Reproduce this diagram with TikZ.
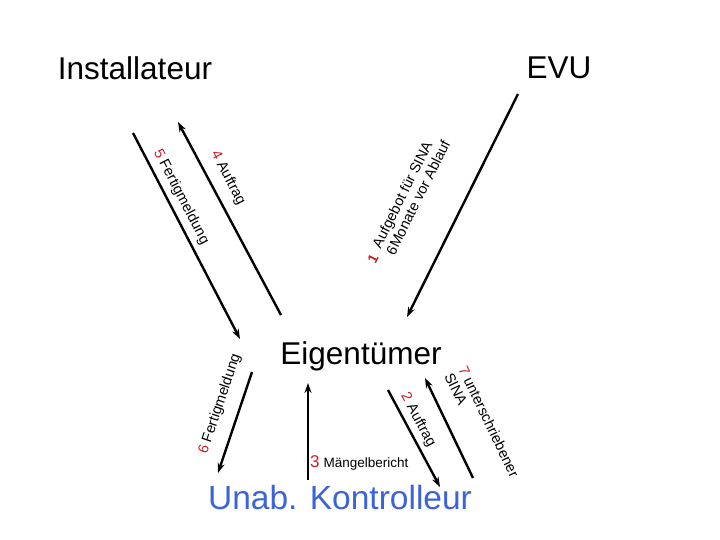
\documentclass[tikz,border=0pt]{standalone}
\usepackage{fontspec}
\setmainfont{Liberation Sans}
\usetikzlibrary{arrows.meta}
\definecolor{nr}{RGB}{200,30,40}
\definecolor{kblue}{RGB}{60,100,215}
\begin{document}
\begin{tikzpicture}[x=1pt,y=-1pt,
  conn/.style={line width=2.4pt},
  arr/.style={conn,-{Stealth[length=10pt,width=7pt]}},
  lab/.style={font=\fontsize{14.5}{15.5}\selectfont,inner sep=0pt,align=left},
  big/.style={font=\fontsize{31.5}{33}\selectfont,inner sep=0pt}]
\useasboundingbox (0,0) rectangle (720,540);
\node[big] (inst) at (135,68) {Installateur};
\node[big] (evu) at (559,68) {EVU};
\node[big] (eig) at (361,356) {Eigentümer};
\node[big,text=kblue,font=\fontsize{33.5}{35}\selectfont] (kon) at (340,498) {Unab. Kontrolleur};
% line endpoints
\coordinate (a5) at (133,133); \coordinate (b5) at (240,339);
\coordinate (a4) at (281,315); \coordinate (b4) at (178,122);
\coordinate (a1) at (518,94);  \coordinate (b1) at (407,317);
\coordinate (a6) at (252,372); \coordinate (b6) at (218,473);
\coordinate (a3) at (308,480); \coordinate (b3) at (308,383);
\coordinate (a2) at (388,390); \coordinate (b2) at (440,487);
\coordinate (a7) at (473,478); \coordinate (b7) at (425,378);
\draw[arr] (a5) -- (b5);
\draw[arr] (a4) -- (b4);
\draw[arr] (a1) -- (b1);
\draw[arr] (a6) -- (b6);
\draw[arr] (a3) -- (b3);
\draw[arr] (a2) -- (b2);
\draw[arr] (a7) -- (b7);
% labels
\node[lab,rotate=-62.6] (l5) at (181,197) {\textcolor{nr}{5} Fertigmeldung};
\node[lab,rotate=-62.6] (l4) at (228,178) {\textcolor{nr}{4} Auftrag};
\node[lab,rotate=63.5] (l1) at (411,194) {Aufgebot für SINA\\6Monate vor Ablauf};
\node[font=\bfseries\fontsize{14}{15}\selectfont,text=nr,rotate=63.5,inner sep=0pt] (n1) at (373,259) {1};
\node[lab,rotate=71.4] (l6) at (220,404) {\textcolor{nr}{6} Fertigmeldung};
\node[lab,rotate=-61.8] (l2) at (418,420) {\textcolor{nr}{2} Auftrag};
\node[lab,rotate=-64.4] (l7) at (482,425) {\textcolor{nr}{7} unterschriebener\\SINA};
\node[lab,anchor=west] (l3) at (310,463) {\textcolor{nr}{\fontsize{17}{18}\selectfont 3} \fontsize{13.5}{14}\selectfont Mängelbericht};
\end{tikzpicture}
\end{document}
